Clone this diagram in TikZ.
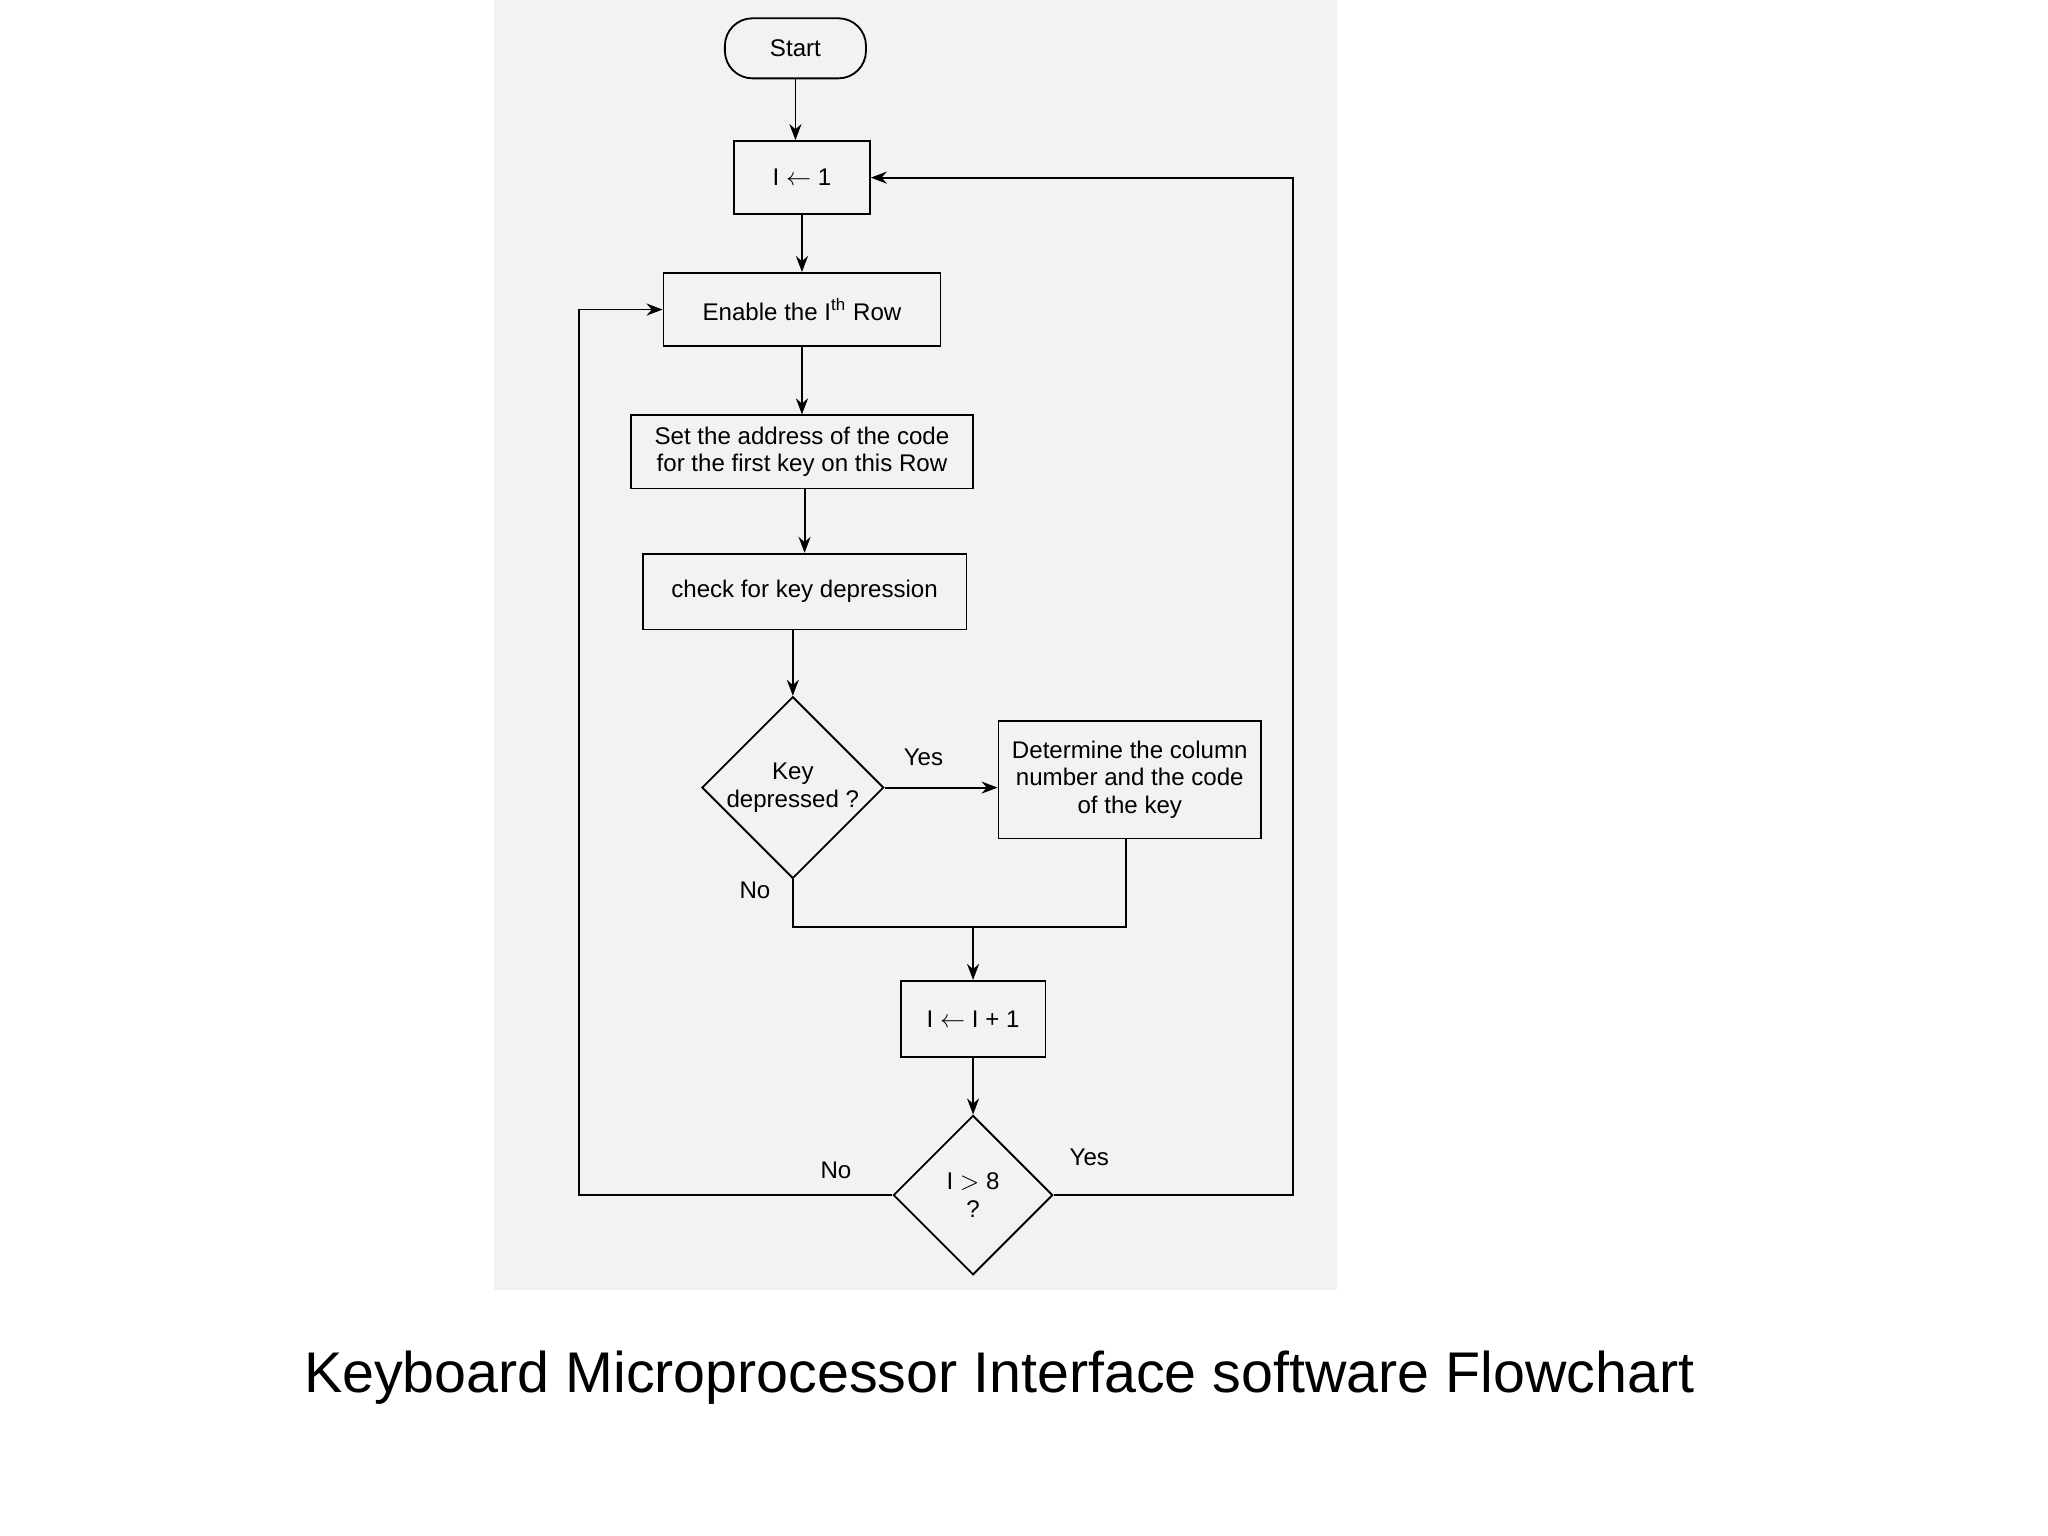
\documentclass[tikz,border=0pt]{standalone}
\usepackage{fontspec}
\setmainfont{Liberation Sans}
\usetikzlibrary{shapes.geometric,arrows.meta}
\begin{document}
\begin{tikzpicture}[x=0.02cm,y=-0.02cm,
  box/.style={draw,thick,minimum width=#1*0.02cm,minimum height=56*0.02cm,inner sep=2pt,font=\fontsize{10.5}{12}\selectfont,align=center},
  dia/.style={draw,thick,diamond,inner sep=0pt,minimum width=#1*0.02cm,minimum height=#1*0.02cm,font=\fontsize{10.5}{12}\selectfont,align=center},
  arr/.style={thick,-{Stealth[length=7pt]}},
  lbl/.style={font=\fontsize{10.5}{12}\selectfont}]
\useasboundingbox (0,0) rectangle (1568,1176);
\fill[gray!10] (378,0) rectangle (1024,988);
\node[box=108,rounded corners=12pt,minimum height=46*0.02cm] (start) at (609,37) {Start};
\node[box=104] (i1) at (614,136) {I $\leftarrow$ 1};
\node[box=212] (en) at (614,237) {Enable the I\textsuperscript{th} Row};
\node[box=262] (set) at (614,346) {Set the address of the code\\for the first key on this Row};
\node[box=248,minimum height=58*0.02cm] (chk) at (616,453) {check for key depression};
\node[dia=134] (key) at (607,603) {Key\\depressed ?};
\node[box=201,minimum height=90*0.02cm] (det) at (865,597) {Determine the column\\number and the code\\of the key};
\node[box=111,minimum height=58*0.02cm] (inc) at (745,780) {I $\leftarrow$ I + 1};
\node[dia=122] (cmp) at (745,915) {I $>$ 8\\?};
\coordinate (m) at (745,710);
\coordinate (lc) at (443,237);
\coordinate (rc) at (990,136);
\draw[arr] (start) -- (start |- i1.north);
\draw[arr] (i1) -- (en);
\draw[arr] (en) -- (set);
\draw[arr] (set.south -| chk.north) -- (chk);
\draw[arr] (chk.south -| key.north) -- (key.north);
\draw[arr] (key.east) -- (key.east -| det.west);
\draw[thick] (key.south) |- (m) -| (det.south -| 862,0);
\draw[arr] (m) -- (inc);
\draw[arr] (inc) -- (cmp.north);
\draw[arr] (cmp.west) -| (lc) -- (en.west);
\draw[arr] (cmp.east) -| (rc) -- (i1.east);
\node[lbl] (y1) at (707,580) {Yes};
\node[lbl] (n1) at (578,682) {No};
\node[lbl] (n2) at (640,896) {No};
\node[lbl] (y2) at (834,886) {Yes};
\node[font=\fontsize{25}{30}\selectfont] (cap) at (765,1055) {Keyboard Microprocessor Interface software Flowchart};
\end{tikzpicture}
\end{document}
